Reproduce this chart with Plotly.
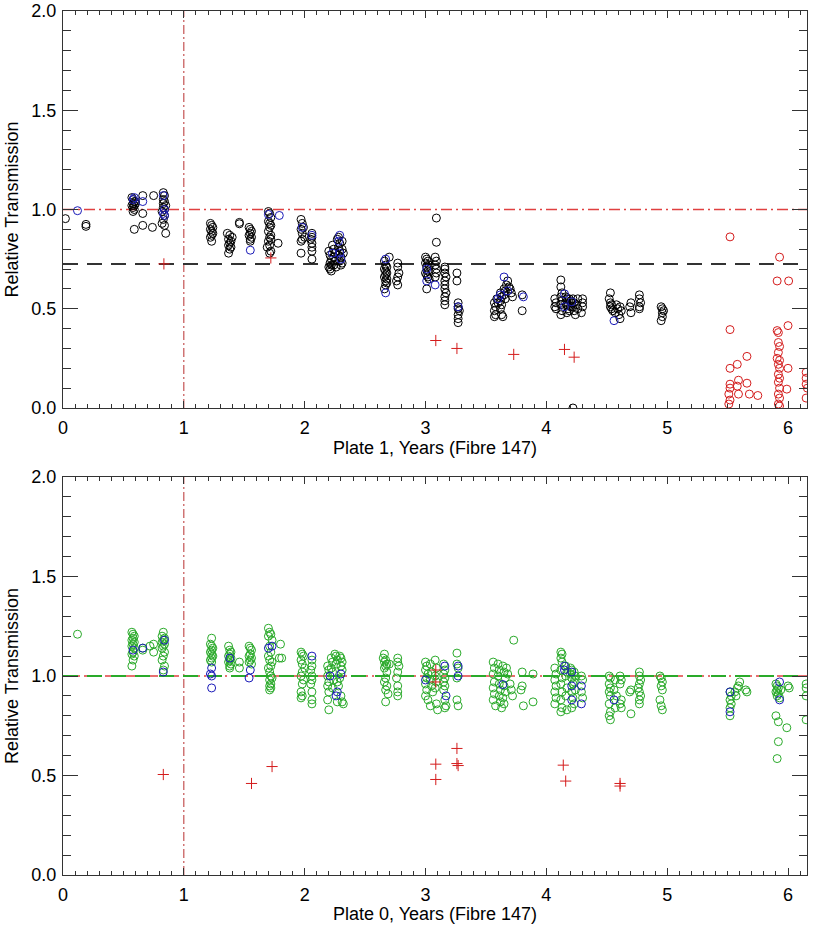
import plotly.graph_objects as go
from plotly.subplots import make_subplots

# ---------------- data ----------------
X_RANGE = [0, 6.157]
Y_RANGE = [0, 2.0]
X_TICKS = [0, 1, 2, 3, 4, 5, 6]
Y_TICKS = [0.0, 0.5, 1.0, 1.5, 2.0]
TOP_XLABEL = "Plate 1, Years (Fibre 147)"
BOT_XLABEL = "Plate 0, Years (Fibre 147)"
YLABEL = "Relative Transmission"
REF_UNITY = 1.0
REF_TOP_MEAN = 0.726
REF_BOT_MEAN = 1.0
EPOCH_MARK = 1.0

# Plate 1 (top)
P1_BLACK = [
    (0.02, 0.954), (0.19, 0.925), (0.19, 0.915),
    (0.57, 1.06), (0.58, 1.05), (0.59, 1.04), (0.58, 1.03), (0.59, 1.02), (0.57, 1.02),
    (0.58, 1.01), (0.59, 1.00), (0.58, 0.99), (0.60, 1.04), (0.60, 1.03), (0.59, 0.90),
    (0.66, 1.07), (0.66, 0.98), (0.66, 0.92), (0.75, 1.07), (0.74, 0.91),
    (0.83, 1.085), (0.84, 1.07), (0.83, 1.05), (0.84, 1.04), (0.83, 1.03), (0.85, 1.02),
    (0.83, 1.01), (0.84, 1.00), (0.82, 0.99), (0.84, 0.97), (0.83, 0.95), (0.82, 0.93),
    (0.84, 0.92), (0.85, 0.88),
    (1.22, 0.93), (1.23, 0.92), (1.24, 0.91), (1.22, 0.90), (1.23, 0.89), (1.24, 0.88),
    (1.23, 0.87), (1.22, 0.86), (1.23, 0.84),
    (1.36, 0.88), (1.38, 0.87), (1.40, 0.86), (1.37, 0.85), (1.39, 0.84), (1.38, 0.83),
    (1.37, 0.82), (1.39, 0.81), (1.38, 0.80), (1.37, 0.78),
    (1.46, 0.935), (1.46, 0.928),
    (1.54, 0.91), (1.55, 0.90), (1.56, 0.89), (1.55, 0.88), (1.54, 0.87), (1.56, 0.86),
    (1.55, 0.85), (1.55, 0.84),
    (1.70, 0.99), (1.71, 0.98), (1.72, 0.96), (1.70, 0.94), (1.71, 0.93), (1.72, 0.92),
    (1.71, 0.91), (1.70, 0.89), (1.72, 0.87), (1.71, 0.86), (1.72, 0.85), (1.70, 0.84),
    (1.71, 0.82), (1.69, 0.81), (1.72, 0.79), (1.71, 0.78), (1.78, 0.83),
    (1.97, 0.95), (1.98, 0.93), (1.99, 0.91), (1.97, 0.90), (1.98, 0.88), (2.00, 0.86),
    (1.98, 0.85), (1.97, 0.84), (1.97, 0.78),
    (2.06, 0.88), (2.06, 0.86), (2.05, 0.85), (2.06, 0.83), (2.06, 0.81), (2.06, 0.79),
    (2.06, 0.75),
    (2.20, 0.79), (2.21, 0.77), (2.22, 0.75), (2.21, 0.73), (2.22, 0.72), (2.20, 0.71),
    (2.21, 0.70), (2.22, 0.69), (2.23, 0.82), (2.24, 0.80), (2.25, 0.78), (2.24, 0.76),
    (2.25, 0.74), (2.24, 0.72), (2.26, 0.71), (2.27, 0.85), (2.28, 0.86), (2.29, 0.83),
    (2.28, 0.81), (2.29, 0.79), (2.28, 0.77), (2.30, 0.76), (2.29, 0.74), (2.31, 0.73),
    (2.30, 0.72), (2.31, 0.84), (2.31, 0.80), (2.32, 0.78),
    (2.66, 0.74), (2.67, 0.72), (2.68, 0.71), (2.66, 0.70), (2.67, 0.69), (2.68, 0.68),
    (2.67, 0.67), (2.66, 0.66), (2.68, 0.65), (2.67, 0.64), (2.68, 0.63), (2.67, 0.62),
    (2.66, 0.60), (2.70, 0.76),
    (2.77, 0.73), (2.77, 0.71), (2.78, 0.68), (2.77, 0.66), (2.76, 0.64), (2.77, 0.62),
    (3.00, 0.76), (3.01, 0.75), (3.02, 0.74), (3.00, 0.73), (3.03, 0.72), (3.01, 0.71),
    (3.02, 0.69), (3.00, 0.68), (3.01, 0.67), (3.02, 0.66), (3.03, 0.65), (3.01, 0.60),
    (3.08, 0.76), (3.09, 0.74), (3.08, 0.72), (3.09, 0.70), (3.09, 0.68), (3.08, 0.66),
    (3.09, 0.957), (3.09, 0.835),
    (3.16, 0.71), (3.16, 0.70), (3.16, 0.68), (3.17, 0.66), (3.16, 0.64), (3.16, 0.62),
    (3.16, 0.60), (3.17, 0.58), (3.16, 0.56), (3.16, 0.54), (3.16, 0.52),
    (3.26, 0.68), (3.26, 0.64),
    (3.27, 0.53), (3.27, 0.51), (3.27, 0.50), (3.28, 0.49), (3.27, 0.47), (3.27, 0.45),
    (3.27, 0.43),
    (3.57, 0.53), (3.58, 0.51), (3.57, 0.49), (3.58, 0.47), (3.57, 0.46), (3.59, 0.55),
    (3.60, 0.53), (3.62, 0.58), (3.63, 0.56), (3.62, 0.54), (3.63, 0.52), (3.62, 0.50),
    (3.63, 0.47), (3.65, 0.60), (3.66, 0.59), (3.65, 0.57), (3.66, 0.55), (3.67, 0.62),
    (3.68, 0.64), (3.69, 0.61), (3.70, 0.60), (3.71, 0.58), (3.72, 0.56), (3.64, 0.46),
    (3.80, 0.57), (3.80, 0.49),
    (4.07, 0.55), (4.08, 0.53), (4.07, 0.51), (4.08, 0.50), (4.12, 0.645), (4.12, 0.61),
    (4.13, 0.58), (4.12, 0.56), (4.13, 0.54), (4.12, 0.52), (4.13, 0.49), (4.12, 0.47),
    (4.16, 0.56), (4.17, 0.55), (4.16, 0.53), (4.17, 0.52), (4.18, 0.50), (4.17, 0.48),
    (4.19, 0.55), (4.20, 0.54), (4.21, 0.53), (4.20, 0.51), (4.19, 0.49), (4.22, 0.55),
    (4.23, 0.53), (4.22, 0.51), (4.23, 0.49), (4.24, 0.47), (4.26, 0.55), (4.25, 0.52),
    (4.26, 0.50), (4.30, 0.55), (4.30, 0.53), (4.30, 0.51), (4.29, 0.48),
    (4.53, 0.58), (4.52, 0.55), (4.53, 0.53), (4.54, 0.52), (4.53, 0.51), (4.54, 0.50),
    (4.55, 0.49), (4.57, 0.48), (4.58, 0.52), (4.59, 0.50), (4.60, 0.47), (4.61, 0.51),
    (4.62, 0.49), (4.61, 0.45),
    (4.70, 0.53), (4.69, 0.51), (4.70, 0.48),
    (4.77, 0.57), (4.77, 0.55), (4.78, 0.53), (4.77, 0.51), (4.77, 0.50),
    (4.95, 0.51), (4.96, 0.50), (4.97, 0.49), (4.96, 0.48), (4.96, 0.46), (4.95, 0.44),
    (4.22, 0.0),
]
P1_BLUE = [
    (0.12, 0.994), (0.59, 1.06), (0.58, 1.05), (0.66, 1.04), (0.83, 1.07), (0.84, 1.00),
    (0.83, 0.98), (0.84, 0.97), (1.55, 0.795), (1.70, 0.975), (1.79, 0.97),
    (1.98, 0.91), (2.06, 0.87), (2.29, 0.87), (2.28, 0.84), (2.23, 0.78), (2.29, 0.78),
    (2.30, 0.75), (2.67, 0.75), (2.67, 0.58), (3.01, 0.70), (3.01, 0.64), (3.08, 0.62),
    (3.27, 0.51), (3.60, 0.55), (3.62, 0.57), (3.68, 0.59), (3.65, 0.66), (3.81, 0.56),
    (4.15, 0.575), (4.15, 0.51), (4.21, 0.535), (4.56, 0.44),
]
P1_RED_OPEN = [
    (5.52, 0.862), (5.52, 0.395), (5.52, 0.20), (5.52, 0.12), (5.52, 0.10), (5.51, 0.07),
    (5.52, 0.04), (5.51, 0.02), (5.58, 0.22), (5.59, 0.14), (5.58, 0.11), (5.59, 0.07),
    (5.66, 0.26), (5.66, 0.125), (5.68, 0.07), (5.75, 0.063),
    (5.93, 0.76), (5.91, 0.64), (6.005, 0.64), (6.00, 0.415),
    (5.91, 0.39), (5.92, 0.38), (5.92, 0.33), (5.93, 0.31), (5.92, 0.28), (5.91, 0.25),
    (5.93, 0.24), (5.92, 0.22), (5.93, 0.20), (5.92, 0.17), (5.93, 0.15), (5.92, 0.13),
    (5.93, 0.10), (5.92, 0.07), (5.93, 0.05), (5.92, 0.02), (5.93, 0.01),
    (6.00, 0.20), (5.99, 0.095),
    (6.15, 0.18), (6.15, 0.15), (6.15, 0.12), (6.16, 0.10), (6.15, 0.05),
]
P1_RED_PLUS = [
    (0.835, 0.726), (1.72, 0.756), (3.085, 0.34), (3.26, 0.30), (3.73, 0.27),
    (4.15, 0.295), (4.23, 0.256),
]

# Plate 0 (bottom)
P0_GREEN = [
    (0.12, 1.21),
    (0.57, 1.22), (0.58, 1.21), (0.59, 1.20), (0.58, 1.19), (0.57, 1.18), (0.59, 1.17),
    (0.58, 1.16), (0.57, 1.15), (0.59, 1.14), (0.58, 1.12), (0.57, 1.11), (0.59, 1.10),
    (0.58, 1.08), (0.57, 1.05),
    (0.66, 1.14), (0.66, 1.13), (0.72, 1.15), (0.75, 1.16), (0.75, 1.12),
    (0.83, 1.22), (0.82, 1.20), (0.84, 1.19), (0.83, 1.18), (0.82, 1.17), (0.84, 1.16),
    (0.83, 1.15), (0.82, 1.14), (0.84, 1.12), (0.83, 1.10), (0.82, 1.08), (0.84, 1.05),
    (0.83, 1.03),
    (1.23, 1.19), (1.22, 1.16), (1.23, 1.15), (1.24, 1.14), (1.23, 1.13), (1.22, 1.12),
    (1.23, 1.11), (1.24, 1.10), (1.23, 1.09), (1.22, 1.08), (1.23, 1.07),
    (1.37, 1.15), (1.38, 1.13), (1.39, 1.12), (1.38, 1.11), (1.37, 1.10), (1.39, 1.09),
    (1.38, 1.08), (1.37, 1.07), (1.39, 1.06), (1.38, 1.05), (1.38, 1.04),
    (1.46, 1.07), (1.46, 1.04),
    (1.54, 1.15), (1.55, 1.14), (1.56, 1.13), (1.55, 1.11), (1.54, 1.10), (1.56, 1.09),
    (1.55, 1.08), (1.54, 1.07), (1.56, 1.06),
    (1.70, 1.24), (1.71, 1.22), (1.72, 1.21), (1.70, 1.20), (1.73, 1.18), (1.71, 1.15),
    (1.72, 1.12), (1.70, 1.10), (1.71, 1.08), (1.73, 1.07), (1.72, 1.05), (1.70, 1.04),
    (1.71, 1.02), (1.72, 1.00), (1.73, 0.99), (1.71, 0.98), (1.72, 0.96), (1.71, 0.95),
    (1.72, 0.94), (1.71, 0.93),
    (1.80, 1.16), (1.79, 1.09), (1.81, 1.09),
    (1.97, 1.12), (1.98, 1.11), (1.99, 1.10), (1.97, 1.08), (1.98, 1.06), (2.00, 1.04),
    (1.98, 1.02), (1.97, 1.00), (1.99, 0.98), (1.98, 0.96), (1.97, 0.92), (1.98, 0.90),
    (1.97, 0.89),
    (2.06, 1.08), (2.06, 1.05), (2.05, 1.03), (2.06, 1.00), (2.06, 0.98), (2.05, 0.96),
    (2.06, 0.92), (2.06, 0.88), (2.06, 0.86),
    (2.19, 1.05), (2.20, 1.03), (2.19, 1.00), (2.20, 0.97), (2.19, 0.95), (2.20, 0.92),
    (2.19, 0.88), (2.20, 0.83), (2.22, 1.09), (2.23, 1.07), (2.22, 1.04), (2.23, 1.02),
    (2.24, 0.98), (2.23, 0.94), (2.25, 1.11), (2.26, 1.10), (2.27, 1.08), (2.26, 1.06),
    (2.27, 0.97), (2.28, 0.95), (2.27, 0.87), (2.29, 1.10), (2.30, 1.09), (2.31, 1.07),
    (2.30, 1.05), (2.31, 1.03), (2.29, 0.99), (2.30, 0.90), (2.31, 0.87), (2.32, 0.86),
    (2.65, 1.09), (2.66, 1.11), (2.67, 1.08), (2.66, 1.07), (2.68, 1.06), (2.67, 1.05),
    (2.66, 1.04), (2.68, 1.02), (2.67, 0.99), (2.66, 0.97), (2.68, 0.95), (2.67, 0.93),
    (2.69, 0.91), (2.67, 0.87), (2.70, 1.06),
    (2.77, 1.09), (2.77, 1.07), (2.78, 1.05), (2.77, 1.02), (2.76, 0.99), (2.77, 0.95),
    (2.77, 0.92), (2.77, 0.90),
    (3.00, 1.07), (3.01, 1.05), (3.00, 1.03), (3.02, 1.01), (3.01, 0.99), (3.00, 0.96),
    (3.01, 0.93), (3.00, 0.90), (3.02, 0.88), (3.04, 1.06), (3.05, 1.02), (3.04, 0.98),
    (3.05, 0.95), (3.06, 0.92), (3.04, 0.85), (3.08, 1.08), (3.09, 1.04), (3.08, 1.00),
    (3.09, 0.97), (3.08, 0.94), (3.09, 0.86), (3.10, 0.83), (3.15, 1.06), (3.16, 1.03),
    (3.15, 1.01), (3.16, 0.99), (3.15, 0.97), (3.16, 0.95), (3.15, 0.93), (3.16, 0.88),
    (3.17, 0.85), (3.16, 0.84),
    (3.26, 1.115), (3.26, 1.06), (3.27, 1.04), (3.26, 0.99), (3.26, 0.88), (3.27, 0.85),
    (3.56, 1.07), (3.57, 1.04), (3.56, 1.01), (3.57, 0.97), (3.56, 0.94), (3.57, 0.91),
    (3.56, 0.88), (3.58, 0.85), (3.60, 1.06), (3.61, 1.03), (3.60, 1.00), (3.61, 0.96),
    (3.62, 0.93), (3.61, 0.90), (3.62, 0.87), (3.63, 0.84), (3.64, 1.05), (3.65, 1.02),
    (3.66, 0.99), (3.65, 0.95), (3.66, 0.92), (3.64, 0.89), (3.65, 0.86), (3.67, 1.04),
    (3.68, 1.01), (3.70, 0.96), (3.71, 0.93), (3.72, 0.90),
    (3.73, 1.18), (3.80, 1.02), (3.80, 0.95), (3.79, 0.93), (3.81, 0.85),
    (3.89, 1.01), (3.89, 0.87),
    (4.07, 1.04), (4.08, 1.01), (4.07, 0.98), (4.08, 0.95), (4.07, 0.92), (4.08, 0.89),
    (4.07, 0.86), (4.12, 1.12), (4.13, 1.11), (4.12, 1.09), (4.13, 1.07), (4.12, 1.03),
    (4.13, 0.99), (4.12, 0.96), (4.13, 0.92), (4.12, 0.88), (4.13, 0.84), (4.12, 0.82),
    (4.16, 1.05), (4.17, 1.02), (4.16, 1.00), (4.17, 0.94), (4.16, 0.90), (4.17, 0.83),
    (4.20, 1.04), (4.21, 1.03), (4.20, 1.01), (4.21, 0.99), (4.22, 0.96), (4.21, 0.92),
    (4.22, 0.89), (4.21, 0.84), (4.23, 1.02), (4.24, 1.00), (4.23, 0.97), (4.24, 0.93),
    (4.23, 0.86), (4.29, 1.00), (4.30, 0.98), (4.29, 0.92), (4.30, 0.89),
    (4.52, 1.00), (4.53, 0.99), (4.52, 0.96), (4.53, 0.94), (4.52, 0.92), (4.53, 0.90),
    (4.52, 0.86), (4.53, 0.82), (4.52, 0.80), (4.53, 0.78), (4.57, 0.98), (4.56, 0.93),
    (4.58, 0.90), (4.57, 0.84), (4.61, 1.00), (4.62, 0.98), (4.61, 0.96), (4.62, 0.88),
    (4.61, 0.86), (4.62, 0.84),
    (4.70, 0.93), (4.69, 0.92), (4.70, 0.81),
    (4.77, 1.02), (4.77, 1.00), (4.78, 0.98), (4.77, 0.96), (4.76, 0.94), (4.77, 0.92),
    (4.78, 0.90), (4.77, 0.88), (4.77, 0.86),
    (4.94, 1.00), (4.95, 0.99), (4.96, 0.97), (4.95, 0.95), (4.96, 0.93), (4.94, 0.88),
    (4.95, 0.85), (4.96, 0.83),
    (5.52, 0.92), (5.53, 0.90), (5.52, 0.88), (5.53, 0.86), (5.52, 0.84), (5.52, 0.80),
    (5.56, 0.92), (5.57, 0.90), (5.58, 0.94), (5.60, 0.97), (5.59, 0.95), (5.65, 0.93),
    (5.66, 0.92),
    (5.90, 0.96), (5.91, 0.95), (5.92, 0.94), (5.91, 0.93), (5.90, 0.92), (5.92, 0.91),
    (5.91, 0.90), (5.93, 0.89), (5.94, 0.93), (5.90, 0.80), (5.92, 0.77), (5.99, 0.74),
    (5.92, 0.67), (5.91, 0.585), (6.00, 0.95), (6.01, 0.94),
    (6.15, 0.96), (6.15, 0.94), (6.15, 0.90), (6.15, 0.78),
]
P0_BLUE = [
    (0.58, 1.13), (0.66, 1.14), (0.84, 1.18), (0.83, 1.02), (1.23, 1.04), (1.22, 1.01),
    (1.23, 1.00), (1.23, 0.94), (1.38, 1.09), (1.55, 1.03), (1.54, 0.99), (1.70, 1.14),
    (1.73, 1.15), (2.06, 1.10), (2.21, 1.00), (2.30, 1.01), (2.27, 0.92), (2.26, 0.90),
    (3.00, 0.98), (3.16, 1.05), (3.17, 0.90), (3.27, 1.05), (3.27, 1.00), (3.64, 0.957),
    (4.15, 1.05), (4.15, 1.03), (4.21, 1.02), (4.21, 0.95), (4.21, 0.88), (4.29, 0.95),
    (4.29, 0.86), (4.56, 0.88), (5.52, 0.92), (5.52, 0.82), (5.93, 0.97), (5.93, 0.88),
]
P0_RED_PLUS = [
    (0.83, 0.505), (1.56, 0.46), (1.73, 0.545), (3.085, 0.557), (3.085, 0.48),
    (3.26, 0.636), (3.26, 0.56), (3.27, 0.55), (4.14, 0.552), (4.16, 0.472),
    (4.61, 0.46), (4.61, 0.447), (3.085, 1.03), (3.085, 0.97),
]

# ---------------- styles ----------------
BLACK = "#000000"
BLUE = "#1a1ab8"
RED = "#d41c1c"
GREEN = "#2aaa2a"
FONT = "Liberation Sans, Arial, sans-serif"
FS = 18

W, H = 817, 944
ML, MR, MT, MB = 63, 10, 11, 69
PLOT_H = H - MT - MB
PLOT_W = W - ML - MR

fig = make_subplots(rows=2, cols=1, vertical_spacing=0.0)


def xs(pts):
    return [p[0] for p in pts]


def ys(pts):
    return [p[1] for p in pts]


def add_lines(row, mean_level, mean_color):
    fig.add_trace(go.Scatter(x=[EPOCH_MARK, EPOCH_MARK], y=Y_RANGE, mode="lines",
                             line=dict(color="#b83030", width=1, dash="9px,3px,2px,3px"),
                             showlegend=False, hoverinfo="skip"), row=row, col=1)
    fig.add_trace(go.Scatter(x=X_RANGE, y=[REF_UNITY, REF_UNITY], mode="lines",
                             line=dict(color="#e04040", width=1.4, dash="11px,4px,2px,4px"),
                             showlegend=False, hoverinfo="skip"), row=row, col=1)
    fig.add_trace(go.Scatter(x=X_RANGE, y=[mean_level, mean_level], mode="lines",
                             line=dict(color=mean_color, width=2, dash="15px,9px"),
                             showlegend=False, hoverinfo="skip"), row=row, col=1)


def add_pts(row, pts, color, symbol="circle-open", size=8):
    fig.add_trace(go.Scatter(x=xs(pts), y=ys(pts), mode="markers",
                             marker=dict(symbol=symbol, size=size, color=color,
                                         line=dict(color=color, width=1)),
                             showlegend=False), row=row, col=1)


add_lines(1, REF_TOP_MEAN, "#333333")
add_pts(1, P1_BLACK, BLACK)
add_pts(1, P1_BLUE, BLUE)
add_pts(1, P1_RED_OPEN, RED)
add_pts(1, P1_RED_PLUS, RED, symbol="cross-thin-open", size=8)

add_lines(2, REF_BOT_MEAN, GREEN)
add_pts(2, P0_GREEN, GREEN)
add_pts(2, P0_BLUE, BLUE)
add_pts(2, P0_RED_PLUS, RED, symbol="cross-thin-open", size=8)

axis_common = dict(showgrid=False, zeroline=False, showline=True, linecolor="#333333",
                   linewidth=1, mirror="ticks", ticks="inside", tickcolor="#333333",
                   automargin=False,
                   tickfont=dict(family=FONT, size=FS, color="#000000"))

for r in (1, 2):
    fig.update_xaxes(range=X_RANGE, tickmode="array", tickvals=X_TICKS,
                     ticktext=[str(v) for v in X_TICKS], ticklen=7,
                     ticklabelstandoff=3,
                     minor=dict(dtick=0.1, tick0=0, ticklen=4, ticks="inside",
                                tickcolor="#333333"),
                     row=r, col=1, **axis_common)
    fig.update_yaxes(range=Y_RANGE, tickmode="array", tickvals=Y_TICKS,
                     ticktext=[f"{v:.1f}" for v in Y_TICKS], ticklen=15,
                     ticklabelstandoff=2,
                     minor=dict(dtick=0.1, tick0=0, ticklen=8, ticks="inside",
                                tickcolor="#333333"),
                     row=r, col=1, **axis_common)

top_lo = 1 - (408 - MT) / PLOT_H
bot_hi = 1 - (477 - MT) / PLOT_H

fig.update_layout(
    width=W, height=H,
    margin=dict(l=ML, r=MR, t=MT, b=MB, autoexpand=False),
    paper_bgcolor="white", plot_bgcolor="white",
    font=dict(family=FONT, size=FS, color="#000000"),
    xaxis=dict(domain=[0, 1]), xaxis2=dict(domain=[0, 1]),
    yaxis=dict(domain=[top_lo, 1.0]), yaxis2=dict(domain=[0.0, bot_hi]),
)


def py_to_paper(py):
    return 1 - (py - MT) / PLOT_H


fig.add_annotation(text=TOP_XLABEL, xref="paper", yref="paper", x=0.5,
                   y=py_to_paper(448), showarrow=False, yanchor="middle",
                   font=dict(family=FONT, size=FS))
fig.add_annotation(text=BOT_XLABEL, xref="paper", yref="paper", x=0.5,
                   y=py_to_paper(914), showarrow=False, yanchor="middle",
                   font=dict(family=FONT, size=FS))
for yc in (209.5, 676):
    fig.add_annotation(text=YLABEL, xref="paper", yref="paper",
                       x=-(ML - 12) / PLOT_W, xanchor="center",
                       y=py_to_paper(yc), yanchor="middle", textangle=-90,
                       showarrow=False, font=dict(family=FONT, size=FS))

fig.write_html("out.html", config={"displayModeBar": False},
               post_script="document.body.style.margin='0';document.body.style.padding='0';")
